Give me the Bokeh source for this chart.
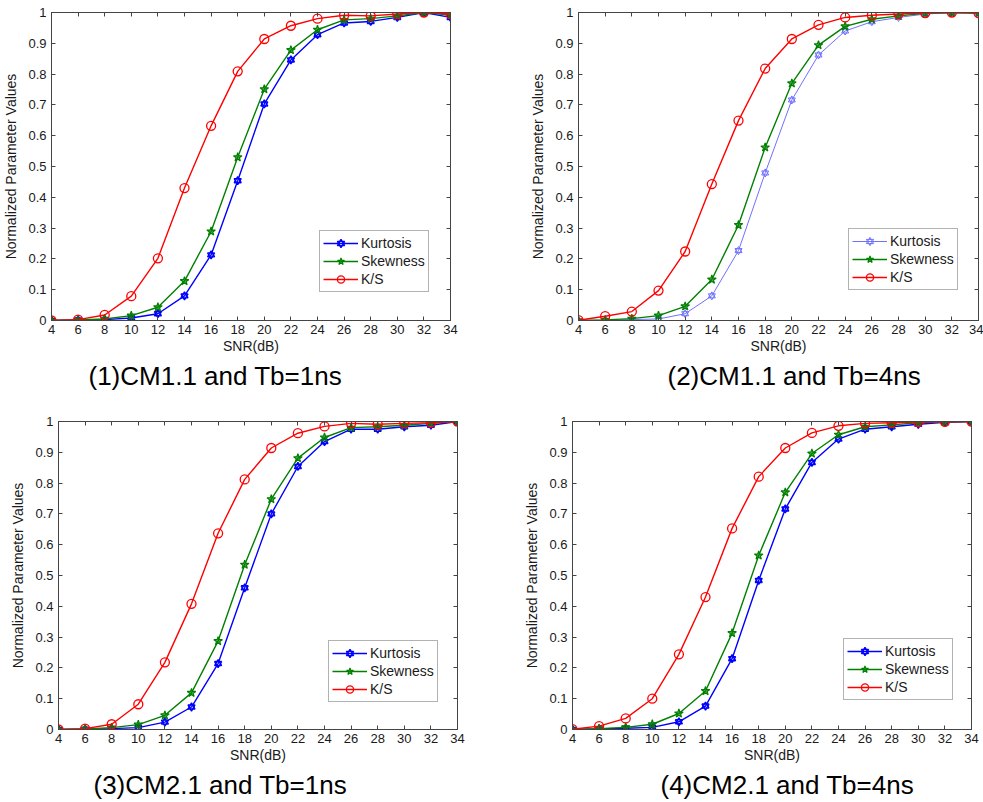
from bokeh.plotting import figure
from bokeh.layouts import column, row
from bokeh.models import (Title, Legend, LegendItem, LinearAxis, FixedTicker, Range1d)
from bokeh.embed import file_html
from bokeh.resources import INLINE

snr = [4, 6, 8, 10, 12, 14, 16, 18, 20, 22, 24, 26, 28, 30, 32, 34]
y_ticks = [0, 0.1, 0.2, 0.3, 0.4, 0.5, 0.6, 0.7, 0.8, 0.9, 1]
y_tick_labels = ["0", "0.1", "0.2", "0.3", "0.4", "0.5", "0.6", "0.7", "0.8", "0.9", "1"]
series_names = ["Kurtosis", "Skewness", "K/S"]
titles = ["(1)CM1.1 and Tb=1ns", "(2)CM1.1 and Tb=4ns",
          "(3)CM2.1 and Tb=1ns", "(4)CM2.1 and Tb=4ns"]

kurt_1 = [0, 0.002, 0.003, 0.008, 0.022, 0.080, 0.213, 0.454, 0.703, 0.846, 0.928, 0.966, 0.971, 0.984, 1.0, 0.984]
skew_1 = [0, 0.002, 0.005, 0.016, 0.043, 0.128, 0.289, 0.530, 0.751, 0.878, 0.944, 0.976, 0.980, 0.989, 1.0, 0.992]
ks_1 = [0, 0.003, 0.018, 0.079, 0.202, 0.430, 0.632, 0.809, 0.914, 0.957, 0.980, 0.991, 0.989, 0.995, 1.0, 0.995]

kurt_2 = [0, 0.001, 0.003, 0.005, 0.022, 0.080, 0.227, 0.479, 0.716, 0.862, 0.940, 0.970, 0.984, 0.995, 1.0, 0.998]
skew_2 = [0, 0.002, 0.006, 0.016, 0.046, 0.133, 0.310, 0.562, 0.770, 0.894, 0.955, 0.978, 0.989, 0.997, 1.0, 0.998]
ks_2 = [0.001, 0.014, 0.029, 0.097, 0.224, 0.443, 0.649, 0.818, 0.914, 0.960, 0.984, 0.991, 0.995, 0.998, 1.0, 0.998]

kurt_3 = [0, 0.001, 0.003, 0.006, 0.024, 0.073, 0.214, 0.460, 0.700, 0.854, 0.935, 0.975, 0.975, 0.983, 0.988, 1.0]
skew_3 = [0, 0.002, 0.006, 0.016, 0.046, 0.119, 0.287, 0.535, 0.748, 0.881, 0.948, 0.980, 0.983, 0.988, 0.994, 1.0]
ks_3 = [0, 0.003, 0.017, 0.082, 0.218, 0.408, 0.637, 0.812, 0.914, 0.962, 0.984, 0.994, 0.991, 0.994, 0.996, 1.0]

kurt_4 = [0, 0.002, 0.004, 0.007, 0.025, 0.076, 0.230, 0.484, 0.716, 0.867, 0.943, 0.975, 0.983, 0.991, 0.997, 1.0]
skew_4 = [0, 0.003, 0.007, 0.017, 0.052, 0.125, 0.313, 0.565, 0.770, 0.896, 0.957, 0.983, 0.989, 0.996, 0.999, 1.0]
ks_4 = [0.001, 0.011, 0.036, 0.100, 0.244, 0.430, 0.653, 0.821, 0.914, 0.963, 0.986, 0.994, 0.996, 0.998, 0.999, 1.0]

panels = [(kurt_1, skew_1, ks_1), (kurt_2, skew_2, ks_2), (kurt_3, skew_3, ks_3), (kurt_4, skew_4, ks_4)]

FONT = "Liberation Sans"
AXC = "#444444"

# layout geometry per panel: width, height, borders (l, r, t, b), title offset, legend pos
geo = [
    dict(w=490, h=400, l=50, r=40, t=12, b=80, toff=37, leg=(268, 28)),
    dict(w=493, h=400, l=88, r=5, t=12, b=80, toff=89, leg=(270, 30)),
    dict(w=490, h=402, l=58, r=33, t=21, b=73, toff=35, leg=(270, 27)),
    dict(w=493, h=402, l=82, r=12, t=21, b=73, toff=88, leg=(271, 29)),
]


def style_axis(ax, labels=True):
    ax.axis_line_color = AXC
    ax.major_tick_line_color = AXC
    ax.major_tick_in = 4
    ax.major_tick_out = 0
    ax.minor_tick_line_color = None
    ax.major_label_text_font = FONT
    ax.major_label_text_font_size = "13px"
    ax.major_label_text_color = "#1a1a1a"
    ax.axis_label_text_font = FONT
    ax.axis_label_text_font_size = "14px"
    ax.axis_label_text_font_style = "normal"
    ax.axis_label_text_color = "#1a1a1a"
    if not labels:
        ax.major_label_text_font_size = "0px"
        ax.major_label_text_color = None


def make_panel(i):
    g = geo[i]
    kurt, skew, ks = panels[i]
    p = figure(width=g["w"], height=g["h"], output_backend="svg", toolbar_location=None,
               x_range=Range1d(4, 34), y_range=Range1d(0, 1),
               min_border_left=g["l"], min_border_right=g["r"],
               min_border_top=g["t"], min_border_bottom=g["b"])
    p.grid.visible = False
    p.outline_line_color = AXC
    p.background_fill_color = "white"
    p.border_fill_color = "white"

    p.xaxis.ticker = FixedTicker(ticks=snr)
    p.yaxis.ticker = FixedTicker(ticks=y_ticks)
    p.yaxis.major_label_overrides = {t: s for t, s in zip(y_ticks, y_tick_labels)}
    p.xaxis.axis_label = "SNR(dB)"
    p.yaxis.axis_label = "Normalized Parameter Values"
    style_axis(p.xaxis[0])
    style_axis(p.yaxis[0])
    p.xaxis.major_label_standoff = 4
    p.xaxis.axis_label_standoff = 1
    p.yaxis.major_label_standoff = 5
    p.yaxis.axis_label_standoff = 6

    top = LinearAxis(ticker=FixedTicker(ticks=snr))
    style_axis(top, labels=False)
    p.add_layout(top, "above")
    right = LinearAxis(ticker=FixedTicker(ticks=y_ticks))
    style_axis(right, labels=False)
    p.add_layout(right, "right")

    kcol = "#7070ff" if i == 1 else "#0000ff"
    kw = 1.0 if i == 1 else 1.4
    gcol = "#008000"
    rcol = "#ff0000"

    lk = p.line(snr, kurt, line_color=kcol, line_width=kw)
    mk1 = p.scatter(snr, kurt, marker="triangle", size=7, line_color=kcol, fill_color=None, line_width=kw)
    mk2 = p.scatter(snr, kurt, marker="inverted_triangle", size=7, line_color=kcol, fill_color=None, line_width=kw)
    ls = p.line(snr, skew, line_color=gcol, line_width=1.4)
    ms = p.scatter(snr, skew, marker="star", size=9, line_color=gcol, fill_color=gcol, fill_alpha=0.6, line_width=1.2)
    lr = p.line(snr, ks, line_color=rcol, line_width=1.4)
    mr = p.scatter(snr, ks, marker="circle", size=9, line_color=rcol, fill_color=None, line_width=1.3)

    leg = Legend(items=[LegendItem(label=series_names[0], renderers=[lk, mk1, mk2]),
                        LegendItem(label=series_names[1], renderers=[ls, ms]),
                        LegendItem(label=series_names[2], renderers=[lr, mr])],
                 location=g["leg"], orientation="vertical",
                 label_text_font=FONT, label_text_font_size="14px", label_text_color="#1a1a1a",
                 glyph_width=35, glyph_height=18, label_height=18, label_standoff=3,
                 spacing=0, padding=3, margin=0,
                 border_line_color="#666666", border_line_width=1,
                 background_fill_color="white", background_fill_alpha=1.0)
    p.add_layout(leg, "center")

    t = Title(text=titles[i], align="left", offset=g["toff"], text_font=FONT,
              text_font_size="26px", text_font_style="normal", text_color="#000000", standoff=4)
    p.add_layout(t, "below")
    return p


plots = [make_panel(i) for i in range(4)]
layout = column(row(plots[0], plots[1], spacing=0), row(plots[2], plots[3], spacing=0), spacing=0)

open("out.html", "w").write(file_html(layout, INLINE))
